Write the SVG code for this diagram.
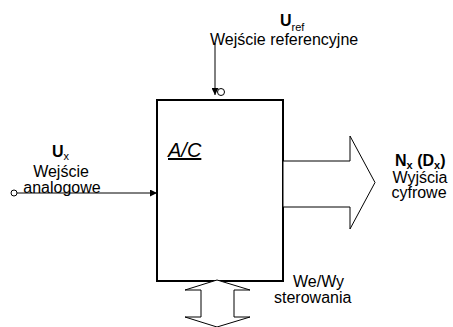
<svg xmlns="http://www.w3.org/2000/svg" width="453" height="327" viewBox="0 0 453 327">
<style>
.t{font-family:"Liberation Sans",Arial,sans-serif;font-size:16px;fill:#000}
.b{font-weight:bold}
.s{font-size:11px}
.ln{stroke:#000;stroke-width:1;fill:none}
.sh{stroke:#000;stroke-width:1;fill:#fff}
</style>
<defs>
<marker id="ah" viewBox="0 0 10 10" refX="10" refY="5" markerWidth="8" markerHeight="7" markerUnits="userSpaceOnUse" orient="auto">
<path d="M0,0 L10,5 L0,10 z" fill="#000"/>
</marker>
</defs>
<rect width="453" height="327" fill="#fff"/>
<g id="adc">
<rect x="157" y="100" width="126" height="181" fill="#fff" stroke="#000" stroke-width="2"/>
<text class="t" x="168" y="157" font-style="italic" text-decoration="underline" style="font-size:20px">A/C</text>
</g>
<g id="out">
<polygon class="sh" points="283,161 350,161 350,136 375,182.5 350,229 350,207 283,207"/>
<text class="t b" x="395" y="166">N<tspan class="s" dy="3">x</tspan><tspan dy="-3"> (D</tspan><tspan class="s" dy="3">x</tspan><tspan dy="-3">)</tspan></text>
<text class="t" x="420" y="183" text-anchor="middle">Wyjścia</text>
<text class="t" x="419" y="198" text-anchor="middle">cyfrowe</text>
</g>
<g id="ctrl">
<polygon class="sh" points="217,280 250,290 234,290 234,317 250,317 217,327 185,317 201,317 201,290 185,290"/>
<text class="t" x="293" y="287">We/Wy</text>
<text class="t" x="274" y="303">sterowania</text>
</g>
<g id="ux">
<text class="t b" x="52" y="157">U<tspan class="s" font-weight="normal" dy="3">x</tspan></text>
<text class="t" x="61" y="177" text-anchor="middle">Wejście</text>
<text class="t" x="62" y="193" text-anchor="middle">analogowe</text>
</g>
<g id="uref">
<text class="t b" x="280" y="26">U<tspan class="s" font-weight="normal" dy="5">ref</tspan></text>
<text class="t" x="210" y="45">Wejście referencyjne</text>
</g>
<g id="connectors">
<circle class="sh" cx="14" cy="193" r="3"/>
<line class="ln" x1="17" y1="193" x2="157" y2="193" marker-end="url(#ah)"/>
<line class="ln" x1="215" y1="43" x2="215" y2="95" marker-end="url(#ah)"/>
<circle class="sh" cx="221" cy="92" r="3.5"/>
</g>
</svg>
